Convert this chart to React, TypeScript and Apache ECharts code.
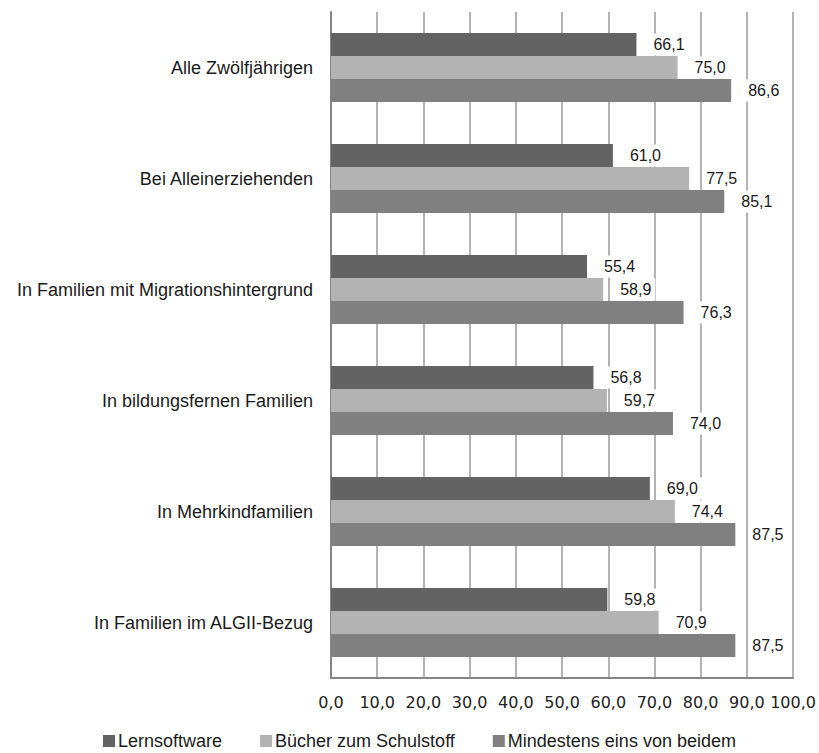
import React, { useEffect, useRef } from "react";
import * as echarts from "echarts";

const categories = [
  "Alle Zwölfjährigen",
  "Bei Alleinerziehenden",
  "In Familien mit Migrationshintergrund",
  "In bildungsfernen Familien",
  "In Mehrkindfamilien",
  "In Familien im ALGII-Bezug",
];
const seriesNames = ["Lernsoftware", "Bücher zum Schulstoff", "Mindestens eins von beidem"];
const lernsoftware = [66.1, 61.0, 55.4, 56.8, 69.0, 59.8];
const buecher = [75.0, 77.5, 58.9, 59.7, 74.4, 70.9];
const mindestens = [86.6, 85.1, 76.3, 74.0, 87.5, 87.5];
const colors = ["#636363", "#b3b3b3", "#808080"];

const fmt = (v: number) => v.toFixed(1).replace(".", ",");

export default function App() {
  const ref = useRef<HTMLDivElement>(null);
  useEffect(() => {
    if (!ref.current) return;
    const chart = echarts.init(ref.current, undefined, { renderer: "svg" });
    const data = [lernsoftware, buecher, mindestens];
    chart.setOption({
      animation: false,
      backgroundColor: "#ffffff",
      grid: { left: 331, right: 25, top: 12, bottom: 75, containLabel: false },
      legend: {
        left: 103,
        top: 732,
        padding: 0,
        itemWidth: 12,
        itemHeight: 12,
        itemGap: 38,
        icon: "rect",
        textStyle: { fontFamily: "Liberation Sans", fontSize: 18, color: "#1a1a1a", padding: [0, 0, 0, -2] },
        data: seriesNames,
      },
      xAxis: {
        type: "value",
        min: 0,
        max: 100,
        interval: 10,
        axisLine: { show: true, lineStyle: { color: "#858585", width: 2 } },
        axisTick: { show: false },
        splitLine: { show: true, lineStyle: { color: "#9a9a9a", width: 1.5 } },
        axisLabel: {
          formatter: (v: number) => fmt(v),
          fontFamily: "DejaVu Sans",
          fontSize: 16,
          color: "#222",
          margin: 16,
        },
      },
      yAxis: {
        type: "category",
        inverse: true,
        data: categories,
        axisLine: { show: true, lineStyle: { color: "#858585", width: 2 } },
        axisTick: { show: false },
        axisLabel: {
          fontFamily: "Liberation Sans",
          fontSize: 18,
          color: "#1a1a1a",
          margin: 18,
        },
      },
      series: seriesNames.map((name, i) => ({
        name,
        type: "bar",
        data: data[i],
        barWidth: 23,
        barGap: "0%",
        itemStyle: { color: colors[i] },
        label: {
          show: true,
          position: "right",
          distance: 13,
          formatter: (p: any) => fmt(p.value),
          fontFamily: "Liberation Sans",
          fontSize: 16,
          color: "#1a1a1a",
          backgroundColor: "#ffffff",
          padding: [3, 4],
        },
      })),
    });
    return () => chart.dispose();
  }, []);
  return (
    <div
      ref={ref}
      style={{ position: "fixed", left: 0, top: 0, width: 819, height: 753 }}
    />
  );
}
